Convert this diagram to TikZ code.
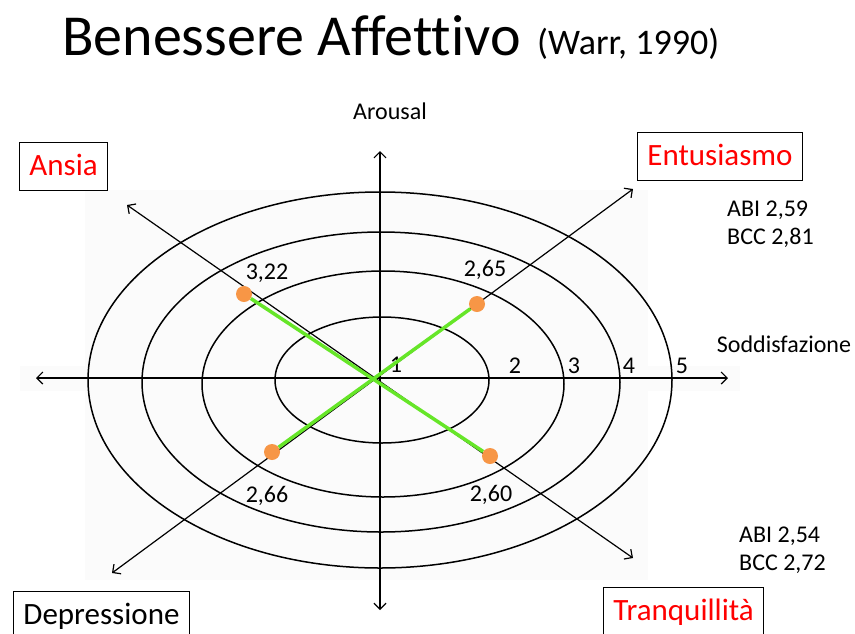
\documentclass[tikz,border=0pt]{standalone}
\usepackage{fontspec}
\setmainfont{Carlito}[Ligatures=NoCommon]
\usetikzlibrary{arrows.meta}
\definecolor{dotorange}{RGB}{247,150,70}
\definecolor{linkgreen}{RGB}{102,230,40}

\begin{document}
\begin{tikzpicture}[x=1pt,y=-1pt,
        axis/.style={draw,line width=1.2pt,<->,>={Straight Barb[length=6pt,width=12pt]}},
        ring/.style={draw,line width=1.5pt},
        pole/.style={draw,line width=0.9pt,anchor=north west,inner xsep=10pt,inner ysep=9.5pt,
            text height=24pt,text depth=5pt,font=\fontsize{31}{31}\selectfont},
        alarm/.style={pole,text=red},
        score/.style={circle,fill=dotorange,minimum size=16pt,inner sep=0pt},
        link/.style={draw=linkgreen,line width=3.5pt},
        tick/.style={anchor=base,inner sep=0pt,font=\fontsize{24}{24}\selectfont},
        note/.style={anchor=base west,inner sep=0pt,font=\fontsize{24}{24}\selectfont}]
        \path[use as bounding box,clip] (0,0) rectangle (855,633);

        % faint backdrop behind the rings
        \fill[black!1.5] (85,190) rectangle (648,580);
        \fill[black!1.5] (20,366) rectangle (740,391);

        % title
        \node[anchor=base west,inner sep=0pt,font=\fontsize{58}{58}\selectfont] (title) at (62,55) {Benessere Affettivo};
        \node[anchor=base west,inner sep=0pt,font=\fontsize{36}{36}\selectfont] (cite) at (537,54) {(Warr, 1990)};

        % rings 2..5
        \foreach \cx/\cy/\rx/\ry in {382/380/107/63,383/384/181/113,381/382/239/150,380/380/292/188}
            \draw[ring] (\cx,\cy) ellipse [x radius=\rx,y radius=\ry];

        % axis ends
        \coordinate (west) at (36,378);
        \coordinate (east) at (728,378);
        \coordinate (north) at (380,151);
        \coordinate (south) at (380,610);
        \coordinate (nw) at (127,205);
        \coordinate (se) at (633,558);
        \coordinate (ne) at (633,189);
        \coordinate (sw) at (112,573);
        \draw[axis] (west) -- (east);
        \draw[axis] (south) -- (north);
        \draw[axis] (nw) -- (se);
        \draw[axis] (sw) -- (ne);

        % axis names
        \node[tick] (arousal) at (390,119) {Arousal};
        \node[tick] (soddisf) at (784,352) {Soddisfazione};
        \node[tick] (v1) at (396,372) {1};
        \node[tick] (v2) at (515,373) {2};
        \node[tick] (v3) at (574,373) {3};
        \node[tick] (v4) at (629,373) {4};
        \node[tick] (v5) at (682,373) {5};

        % poles
        \node[alarm] (ansia) at (19,142) {Ansia};
        \node[alarm] (entus) at (637,132) {Entusiasmo};
        \node[pole] (depr) at (13,591) {Depressione};
        \node[alarm] (tranq) at (603,587) {Tranquillità};

        % scores
        \node[score] (pAnsia) at (244,294) {};
        \node[score] (pEntus) at (477,304) {};
        \node[score] (pDepr) at (272,452) {};
        \node[score] (pTranq) at (490,456) {};
        \draw[link] (pAnsia) -- (pTranq);
        \draw[link] (pEntus) -- (pDepr);
        \node[tick] (sAnsia) at (267,279) {3,22};
        \node[tick] (sEntus) at (485,276) {2,65};
        \node[tick] (sDepr) at (267,502) {2,66};
        \node[tick] (sTranq) at (491,501) {2,60};

        % group means
        \node[note] (abiTop) at (727,216) {ABI 2,59};
        \node[note] (bccTop) at (727,244) {BCC 2,81};
        \node[note] (abiBot) at (739,542) {ABI 2,54};
        \node[note] (bccBot) at (739,570) {BCC 2,72};
    \end{tikzpicture}
\end{document}
